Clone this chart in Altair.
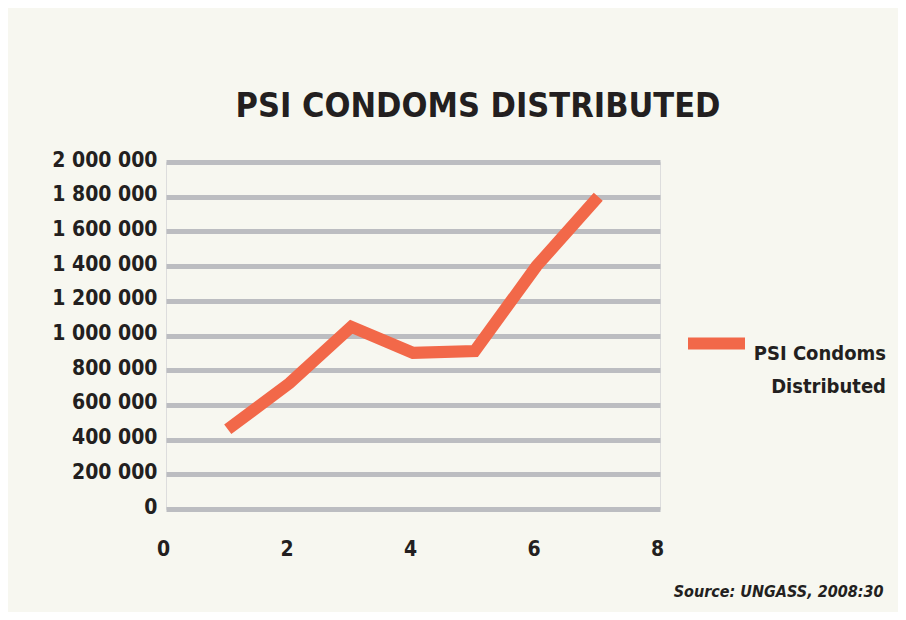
import altair as alt
import pandas as pd

# Data
years = [1, 2, 3, 4, 5, 6, 7]
condoms = [460000, 725000, 1050000, 900000, 910000, 1400000, 1800000]
series = ["PSI Condoms Distributed"] * len(years)

x_ticks = [0, 2, 4, 6, 8]
y_ticks = [0, 200000, 400000, 600000, 800000, 1000000, 1200000, 1400000, 1600000, 1800000, 2000000]

df = pd.DataFrame({"x": years, "y": condoms, "series": series})

FONT = "DejaVu Sans Condensed, DejaVu Sans, sans-serif"
TXT = "#231f20"
BG = "#f7f7f0"

chart = alt.Chart(df).mark_line(
    strokeWidth=12, strokeCap="butt", strokeJoin="miter"
).encode(
    x=alt.X(
        "x:Q",
        scale=alt.Scale(domain=[0, 8], nice=False, zero=False),
        axis=alt.Axis(
            values=x_ticks, grid=False, domain=False, ticks=False, tickSize=0,
            labelFont=FONT, labelFontSize=21, labelFontWeight="bold", labelColor=TXT,
            labelBaseline="alphabetic", labelPadding=46, labelOffset=-3,
            labelFlush=False,
            title="Source: UNGASS, 2008:30", titleFont=FONT, titleFontSize=16,
            titleFontWeight="bold", titleFontStyle="italic", titleColor=TXT,
            titleX=717, titleY=87, titleAlign="right", titleBaseline="alphabetic",
            titleAnchor="end",
        ),
    ),
    y=alt.Y(
        "y:Q",
        scale=alt.Scale(domain=[0, 2000000], nice=False),
        axis=alt.Axis(
            values=y_ticks, domain=False, ticks=False, tickSize=0,
            grid=True, gridColor="#bcbdc1", gridWidth=5, gridOpacity=1,
            labelFont=FONT, labelFontSize=21, labelFontWeight="bold", labelColor=TXT,
            labelBaseline="alphabetic", labelOffset=4, labelPadding=9,
            labelExpr="replace(format(datum.value, ','), regexp(',', 'g'), ' ')",
            title=None,
        ),
    ),
    color=alt.Color(
        "series:N",
        scale=alt.Scale(range=["#f26849"]),
        legend=alt.Legend(
            orient="none", legendX=516, legendY=147, title=None, padding=0,
            symbolType="stroke", symbolSize=3249, symbolStrokeWidth=12,
            labelExpr="['PSI Condoms', 'Distributed']",
            labelFont=FONT, labelFontSize=20, labelFontWeight="bold", labelColor=TXT,
            labelAlign="right", labelOffset=135, labelBaseline="top",
            labelLimit=0,
        ),
    ),
).properties(
    width=494,
    height=347,
    autosize=alt.AutoSizeParams(type="none"),
    padding={"left": 158, "top": 154, "right": 238, "bottom": 103},
    background=BG,
    title=alt.TitleParams(
        "PSI CONDOMS DISTRIBUTED", font=FONT, fontSize=34, fontWeight="bold",
        color=TXT, anchor="middle", frame="group", dx=65, dy=46, offset=44,
        baseline="alphabetic",
    ),
).configure_view(stroke="transparent", strokeWidth=0).configure(
    style={"guide-label": {"lineHeight": 33}}
)

chart.save("out.html", embed_options={"renderer": "svg", "actions": False})
